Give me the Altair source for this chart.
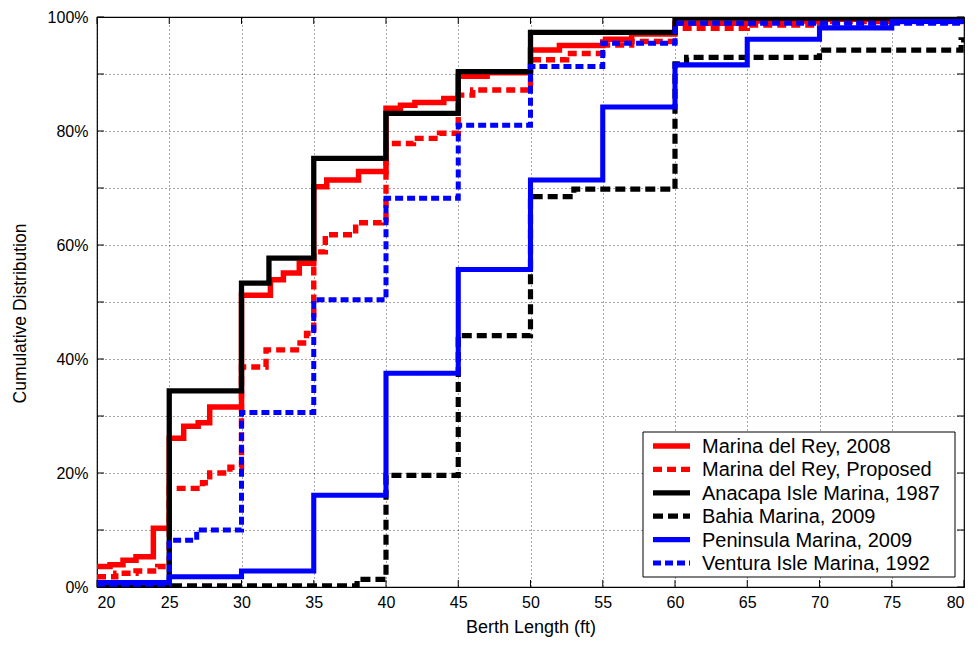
import altair as alt
import pandas as pd

# ---- data ----
series_names = [
    "Marina del Rey, 2008",
    "Marina del Rey, Proposed",
    "Anacapa Isle Marina, 1987",
    "Bahia Marina, 2009",
    "Peninsula Marina, 2009",
    "Ventura Isle Marina, 1992",
]

mdr2008_x = [20, 20.9, 21.8, 22.7, 23.9, 25, 26, 27, 27.8, 30, 32, 32.9, 34, 35, 35.9, 38.1, 40, 41, 42, 44, 45, 47, 50, 52, 55, 57, 60, 65, 70, 80]
mdr2008_y = [3.6, 3.9, 4.7, 5.3, 10.3, 26.1, 28.2, 28.8, 31.6, 51.2, 53.9, 55.1, 56.8, 70.2, 71.4, 72.9, 84.0, 84.5, 85.0, 85.7, 89.6, 90.2, 94.2, 95.0, 96.1, 97.0, 98.9, 99.3, 99.6, 99.6]

mdrprop_x = [20, 21.3, 22.7, 24.2, 25, 27.3, 27.8, 29.2, 30, 31.7, 33.8, 34.5, 35, 35.8, 37.9, 39.7, 40, 41.9, 43.7, 45, 46, 50, 52.5, 55, 57, 60, 65, 70, 80]
mdrprop_y = [1.8, 2.4, 2.8, 3.6, 17.3, 18.3, 20.0, 21.0, 38.6, 41.6, 42.8, 44.5, 58.8, 61.8, 63.9, 64.4, 77.8, 78.7, 79.6, 86.3, 87.2, 92.5, 93.6, 95.1, 95.7, 98.0, 98.6, 99.2, 99.2]

anacapa_x = [20, 25, 30, 31.9, 35, 40, 45, 50, 60, 80]
anacapa_y = [0.0, 34.4, 53.3, 57.7, 75.2, 83.1, 90.4, 97.3, 99.8, 99.8]

bahia_x = [20, 38, 40, 45, 50, 53, 60, 60.8, 70, 79.8, 80]
bahia_y = [0.2, 1.35, 19.6, 44.1, 68.5, 69.8, 91.8, 92.9, 94.2, 96.0, 96.0]

peninsula_x = [20, 25, 30, 35, 40, 45, 50, 55, 60, 65, 70, 75, 80]
peninsula_y = [0.8, 1.8, 2.8, 16.1, 37.5, 55.7, 71.4, 84.2, 91.6, 96.1, 98.1, 99.2, 99.2]

ventura_x = [20, 25, 26.9, 30, 35, 40, 45, 50, 55, 60, 80]
ventura_y = [0.5, 8.2, 10.0, 30.6, 50.4, 68.2, 81.0, 91.3, 95.4, 98.9, 99.3]

x_ticks = [20, 25, 30, 35, 40, 45, 50, 55, 60, 65, 70, 75, 80]
y_ticks = [0, 10, 20, 30, 40, 50, 60, 70, 80, 90, 100]

all_x = [mdr2008_x, mdrprop_x, anacapa_x, bahia_x, peninsula_x, ventura_x]
all_y = [mdr2008_y, mdrprop_y, anacapa_y, bahia_y, peninsula_y, ventura_y]

rows = []
for name, xs, ys in zip(series_names, all_x, all_y):
    for i, (xv, yv) in enumerate(zip(xs, ys)):
        rows.append({"series": name, "x": xv, "y": yv, "i": i})
df = pd.DataFrame(rows)

legend_df = pd.DataFrame({"series": series_names, "idx": list(range(len(series_names)))})

W, H = 867, 570
FONT = "Liberation Sans"

colors = ["#ff0000", "#ff0000", "#000000", "#000000", "#0000ff", "#0000ff"]
dashes = [[1, 0], [9, 5], [1, 0], [10, 5], [1, 0], [8, 4]]
widths = [5.5, 5, 3, 3.5, 3.5, 3]

xscale = alt.Scale(domain=[20, 80], nice=False, zero=False)
yscale = alt.Scale(domain=[0, 100], nice=False)

color_enc = alt.Color("series:N", scale=alt.Scale(domain=series_names, range=colors), legend=None)
dash_enc = alt.StrokeDash("series:N", scale=alt.Scale(domain=series_names, range=dashes), legend=None)
width_enc = alt.StrokeWidth("series:N", scale=alt.Scale(domain=series_names, range=widths), legend=None)

x_enc = alt.X(
    "x:Q",
    scale=xscale,
    axis=alt.Axis(values=x_ticks, title="Berth Length (ft)", labelPadding=7, titlePadding=8,
                  titleFontSize=18),
)
y_enc = alt.Y(
    "y:Q",
    scale=yscale,
    axis=alt.Axis(
        values=y_ticks,
        labelExpr="datum.value % 20 == 0 ? datum.value + '%' : ''",
        title="Cumulative Distribution",
        labelPadding=9,
        titlePadding=18,
        titleFontSize=17.5,
        titleY=296,
    ),
)

layers = []
for name in series_names:
    layers.append(
        alt.Chart(df)
        .transform_filter(alt.datum.series == name)
        .mark_line(interpolate="step-after", clip=True)
        .encode(x=x_enc, y=y_enc, order="i:Q", color=color_enc, strokeDash=dash_enc, strokeWidth=width_enc)
    )

tick_x_df = pd.DataFrame({"x": x_ticks})
tick_y_df = pd.DataFrame({"y": y_ticks})

bottom_ticks = alt.Chart(tick_x_df).mark_rule(color="#000", strokeWidth=1).encode(
    x=alt.X("x:Q", scale=xscale), y=alt.value(H), y2=alt.value(H - 7)
)
top_ticks = alt.Chart(tick_x_df).mark_rule(color="#000", strokeWidth=1).encode(
    x=alt.X("x:Q", scale=xscale), y=alt.value(0), y2=alt.value(7)
)
left_ticks = alt.Chart(tick_y_df).mark_rule(color="#000", strokeWidth=1).encode(
    y=alt.Y("y:Q", scale=yscale), x=alt.value(0), x2=alt.value(7)
)
right_ticks = alt.Chart(tick_y_df).mark_rule(color="#000", strokeWidth=1).encode(
    y=alt.Y("y:Q", scale=yscale), x=alt.value(W), x2=alt.value(W - 7)
)

# ---- legend drawn as a boxed key inside the lower-right corner ----
LX0, LX1, LY0, LY1 = 546, 858, 415, 560
ROW0, ROWSTEP = 429, 23.4

legend_box = alt.Chart(pd.DataFrame({"k": [0]})).mark_rect(
    fill="#ffffff", stroke="#000000", strokeWidth=1
).encode(x=alt.value(LX0), x2=alt.value(LX1), y=alt.value(LY0), y2=alt.value(LY1))

legend_base = alt.Chart(legend_df).transform_calculate(py=f"{ROW0} + datum.idx * {ROWSTEP}")

legend_lines = legend_base.mark_rule().encode(
    x=alt.value(556), x2=alt.value(593), y=alt.Y("py:Q", scale=None),
    color=color_enc, strokeDash=dash_enc, strokeWidth=width_enc,
)
legend_text = legend_base.mark_text(
    align="left", baseline="middle", fontSize=20, font=FONT, color="#000", dy=1
).encode(x=alt.value(605), y=alt.Y("py:Q", scale=None), text="series:N")

chart = (
    alt.layer(bottom_ticks, top_ticks, left_ticks, right_ticks, *layers, legend_box, legend_lines, legend_text)
    .properties(
        width=W,
        height=H,
        autosize=alt.AutoSizeParams(type="none"),
        padding={"left": 89, "top": 9, "right": 8, "bottom": 50},
        background="#ffffff",
    )
    .configure_view(stroke="#000", strokeWidth=1.2)
    .configure_axis(
        labelFont=FONT,
        labelFontSize=16,
        labelColor="#000",
        titleFont=FONT,
        titleFontWeight="normal",
        titleColor="#000",
        domain=False,
        ticks=False,
        grid=True,
        gridColor="#000",
        gridDash=[1, 3],
        gridOpacity=0.7,
        gridWidth=1,
    )
)

chart.save("out.html", embed_options={"renderer": "svg", "actions": False})
